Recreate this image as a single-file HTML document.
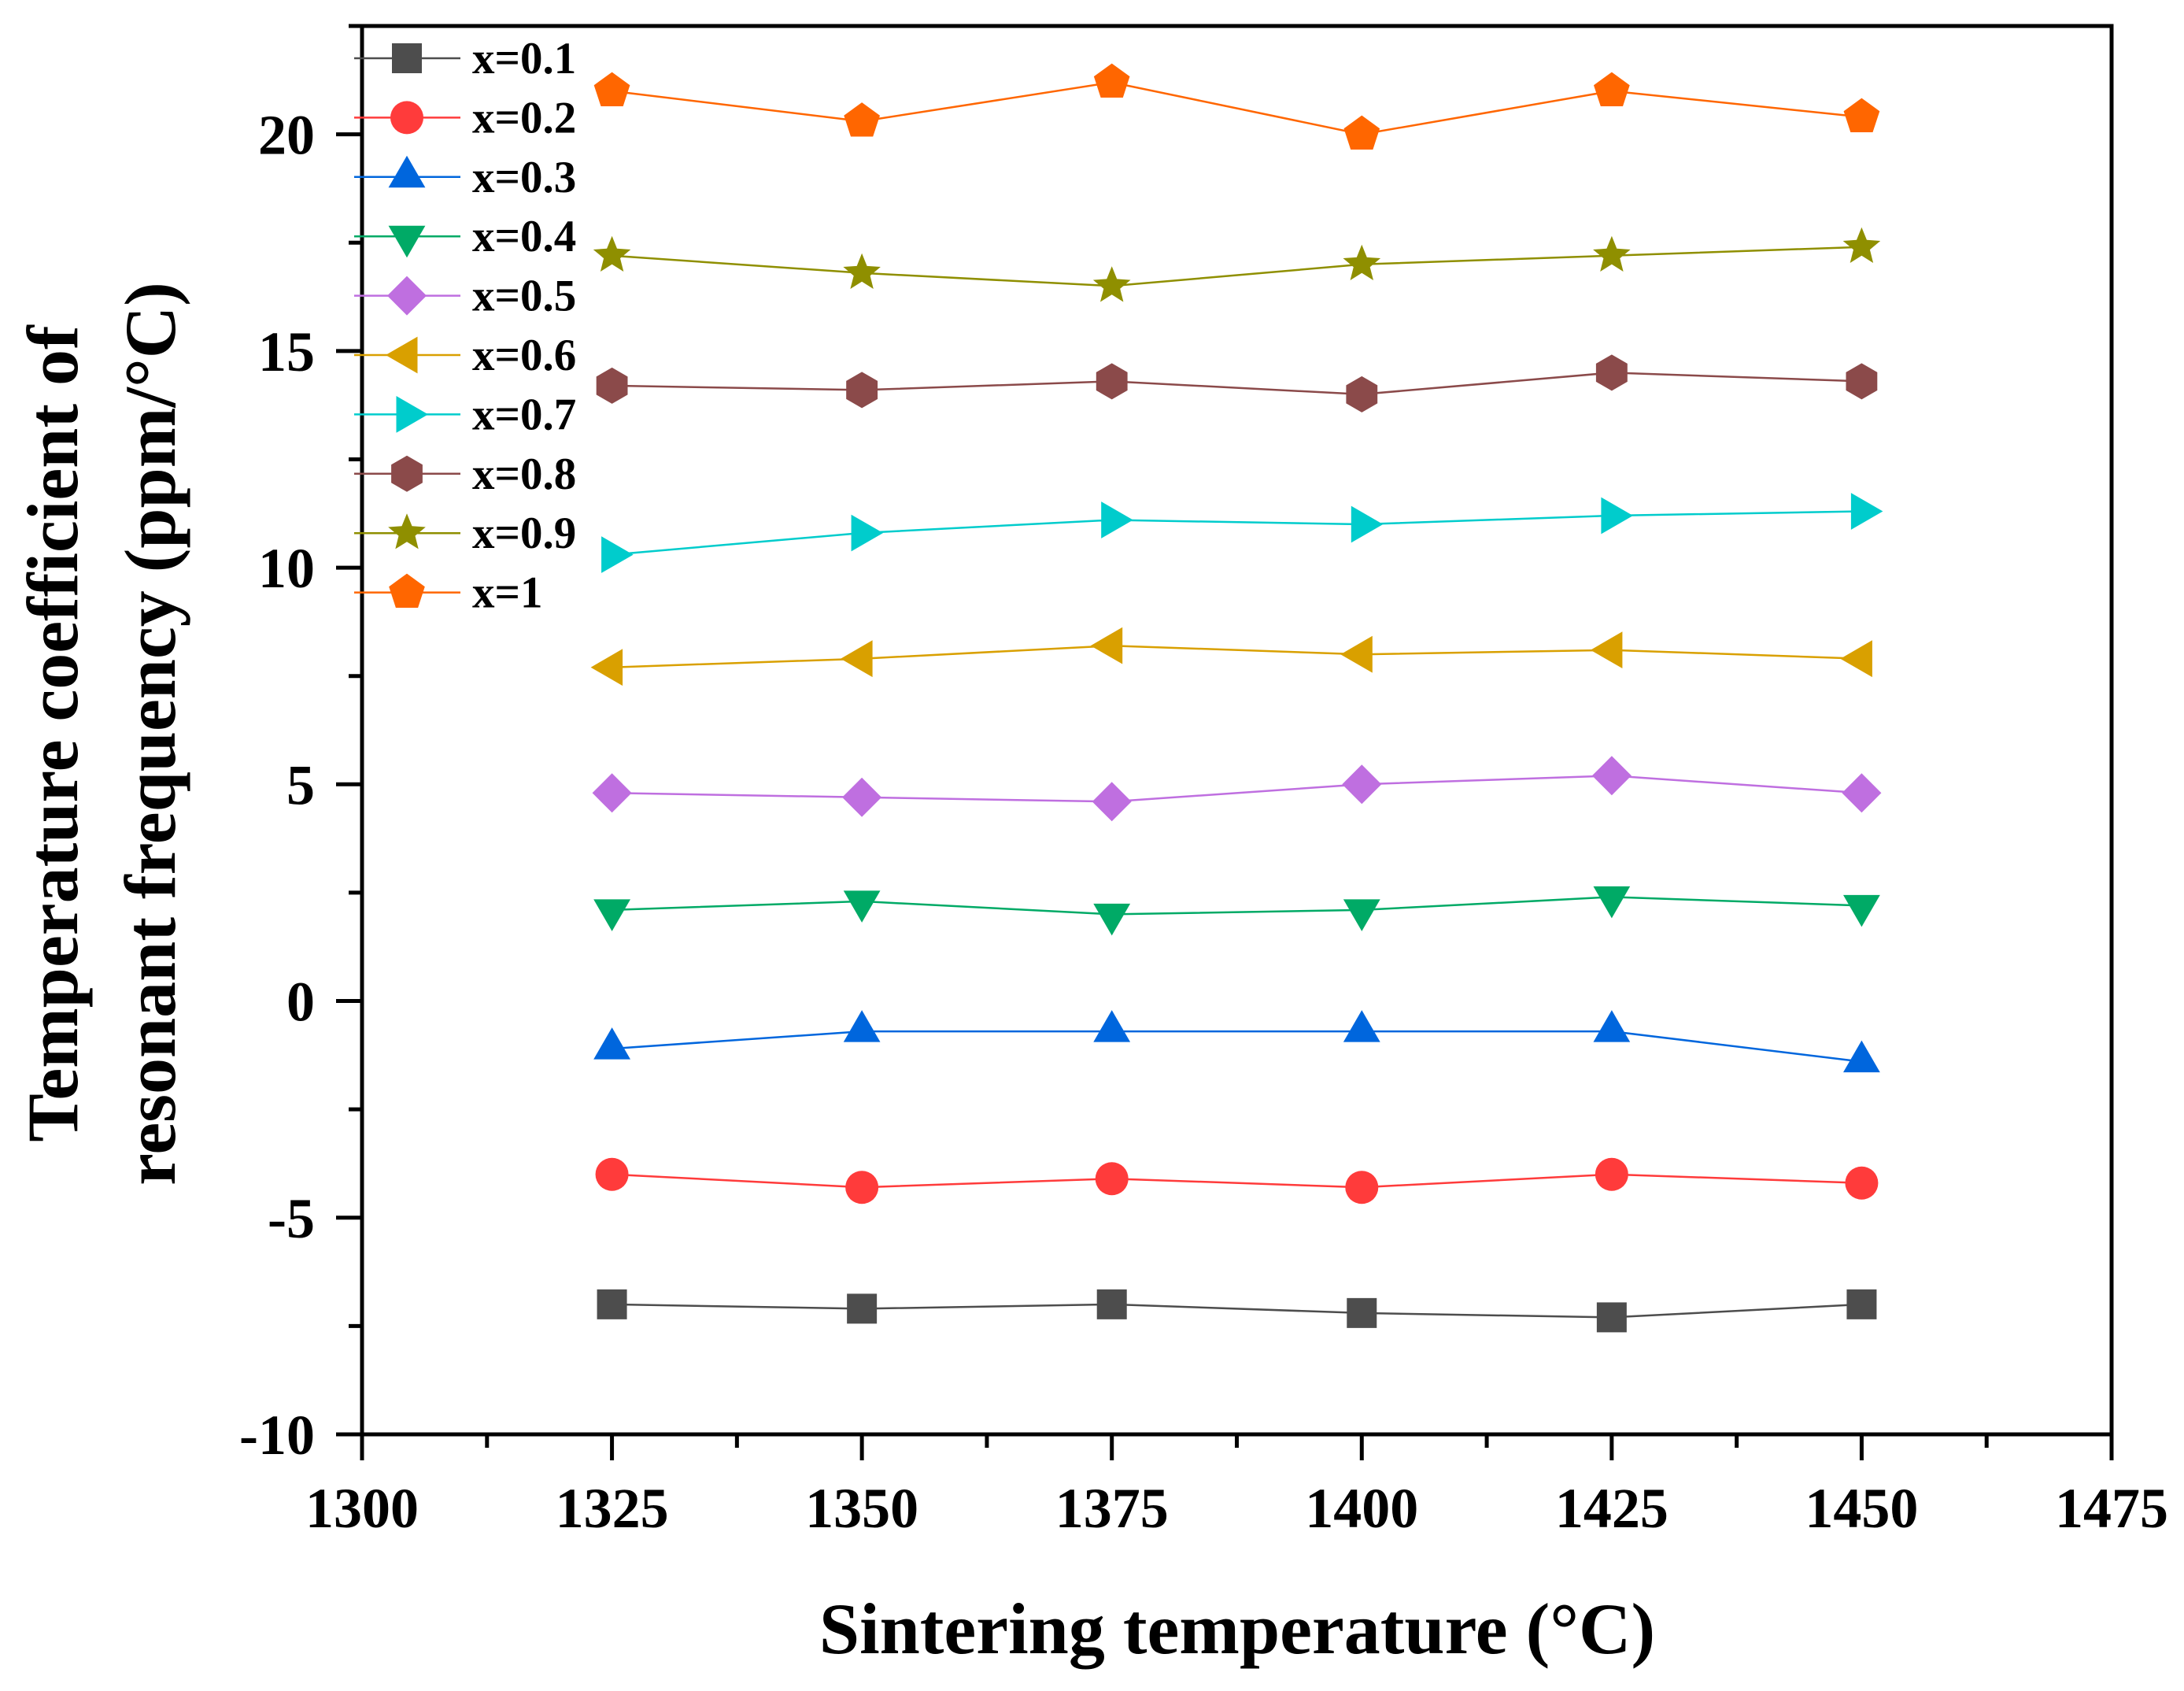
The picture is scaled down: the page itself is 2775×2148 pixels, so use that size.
<!DOCTYPE html>
<html><head><meta charset="utf-8">
<style>
html,body{margin:0;padding:0;background:#fff;}
svg{display:block;font-family:"Liberation Serif",serif;font-weight:bold;}
</style></head>
<body>
<svg id="chart" width="2775" height="2148" viewBox="0 0 2775 2148">
<g id="plot"></g>
<g id="axes"></g>
<g id="legend"></g>
<text x="1572" y="2100" font-size="92" text-anchor="middle">Sintering temperature (°C)</text>
<text transform="translate(98,932) rotate(-90)" font-size="92" text-anchor="middle">Temperature coefficient of</text>
<text transform="translate(222,932) rotate(-90)" font-size="92" text-anchor="middle">resonant frequency (ppm/°C)</text>
</svg>
<script>
const temps = [1325, 1350, 1375, 1400, 1425, 1450];
const seriesNames = ["x=0.1","x=0.2","x=0.3","x=0.4","x=0.5","x=0.6","x=0.7","x=0.8","x=0.9","x=1"];
const s01 = [-7.0, -7.1, -7.0, -7.2, -7.3, -7.0];
const s02 = [-4.0, -4.3, -4.1, -4.3, -4.0, -4.2];
const s03 = [-1.1, -0.7, -0.7, -0.7, -0.7, -1.4];
const s04 = [2.1, 2.3, 2.0, 2.1, 2.4, 2.2];
const s05 = [4.8, 4.7, 4.6, 5.0, 5.2, 4.8];
const s06 = [7.7, 7.9, 8.2, 8.0, 8.1, 7.9];
const s07 = [10.3, 10.8, 11.1, 11.0, 11.2, 11.3];
const s08 = [14.2, 14.1, 14.3, 14.0, 14.5, 14.3];
const s09 = [17.2, 16.8, 16.5, 17.0, 17.2, 17.4];
const s10 = [21.0, 20.3, 21.2, 20.0, 21.0, 20.4];
const xTicks = [1300, 1325, 1350, 1375, 1400, 1425, 1450, 1475];
const yTicks = [-10, -5, 0, 5, 10, 15, 20];

const allSeries = [s01,s02,s03,s04,s05,s06,s07,s08,s09,s10];
const colors = ["#4d4d4d","#ff3b3b","#0066dd","#00aa66","#bf6fe0","#d9a000","#00cccc","#8b4a4a","#8f8f00","#ff6600"];
const shapes = ["square","circle","up","down","diamond","left","right","hexagon","star","pentagon"];

const L=460, R=2683, T=33, B=1822;
const X0=1300, X1=1475, Y0=-10, Y1=22.5;
const xs = v => L + (v-X0)/(X1-X0)*(R-L);
const ys = v => B - (v-Y0)/(Y1-Y0)*(B-T);
const NS="http://www.w3.org/2000/svg";
function mk(tag, attrs, parent){const e=document.createElementNS(NS,tag);for(const k in attrs)e.setAttribute(k,attrs[k]);parent.appendChild(e);return e;}

function marker(shape, cx, cy, color, parent){
  let e;
  function poly(n, rot, rad){const p=[];for(let i=0;i<n;i++){const a=rot+i*2*Math.PI/n;p.push((cx+rad*Math.cos(a)).toFixed(1)+","+(cy+rad*Math.sin(a)).toFixed(1));}return p.join(" ");}
  if(shape==="square") e=mk("rect",{x:cx-19,y:cy-19,width:38,height:38,fill:color},parent);
  else if(shape==="circle") e=mk("circle",{cx:cx,cy:cy,r:21,fill:color},parent);
  else if(shape==="up") e=mk("polygon",{points:poly(3,-Math.PI/2,27),fill:color},parent);
  else if(shape==="down") e=mk("polygon",{points:poly(3,Math.PI/2,27),fill:color},parent);
  else if(shape==="left") e=mk("polygon",{points:poly(3,Math.PI,27),fill:color},parent);
  else if(shape==="right") e=mk("polygon",{points:poly(3,0,27),fill:color},parent);
  else if(shape==="diamond") e=mk("polygon",{points:poly(4,0,25),fill:color},parent);
  else if(shape==="hexagon") e=mk("polygon",{points:poly(6,Math.PI/6,23),fill:color},parent);
  else if(shape==="pentagon") e=mk("polygon",{points:poly(5,-Math.PI/2,24),fill:color},parent);
  else if(shape==="star"){const p=[];for(let i=0;i<10;i++){const a=-Math.PI/2+i*Math.PI/5;const rr=i%2?11:25;p.push((cx+rr*Math.cos(a)).toFixed(1)+","+(cy+rr*Math.sin(a)).toFixed(1));}e=mk("polygon",{points:p.join(" "),fill:color},parent);}
  return e;
}

const plot=document.getElementById("plot");
allSeries.forEach((vals,si)=>{
  const g=mk("g",{},plot);
  
  
  const pts=vals.map((v,i)=>xs(temps[i]).toFixed(1)+","+ys(v).toFixed(1)).join(" ");
  const ln=mk("polyline",{points:pts,fill:"none",stroke:colors[si],"stroke-width":2.5},g);
  
  
  vals.forEach((v,i)=>{
    const m=marker(shapes[si],xs(temps[i]),ys(v),colors[si],g);
    
    
  });
});

const axes=document.getElementById("axes");
const frame=mk("rect",{x:L,y:T,width:R-L,height:B-T,fill:"none",stroke:"#000","stroke-width":5},axes);


xTicks.forEach((t,i)=>{
  const x=xs(t);
  const tk=mk("line",{x1:x,y1:B,x2:x,y2:B+33,stroke:"#000","stroke-width":5},axes);
  
  
  if(i<xTicks.length-1){const xm=xs(t+12.5);const mt=mk("line",{x1:xm,y1:B,x2:xm,y2:B+17,stroke:"#000","stroke-width":5},axes);
    
    }
  const lb=mk("text",{x:x,y:B+118,"font-size":72,"text-anchor":"middle"},axes);
  lb.textContent=t;
  
  
});
yTicks.forEach((t,i)=>{
  const y=ys(t);
  const tk=mk("line",{x1:L-33,y1:y,x2:L,y2:y,stroke:"#000","stroke-width":5},axes);
  
  
  const ym=ys(t+2.5);
  const mt=mk("line",{x1:L-17,y1:ym,x2:L,y2:ym,stroke:"#000","stroke-width":5},axes);
  
  
  const lb=mk("text",{x:400,y:y+25,"font-size":72,"text-anchor":"end"},axes);
  lb.textContent=t;
  
  
});

const legend=document.getElementById("legend");
seriesNames.forEach((n,i)=>{
  const y=74+i*75.4;
  const g=mk("g",{},legend);
  
  
  mk("line",{x1:450,y1:y,x2:585,y2:y,stroke:colors[i],"stroke-width":2.5},g);
  marker(shapes[i],517,y,colors[i],g);
  const t=mk("text",{x:600,y:y+19,"font-size":57},g);
  t.textContent=n;
});
</script>
</body></html>
